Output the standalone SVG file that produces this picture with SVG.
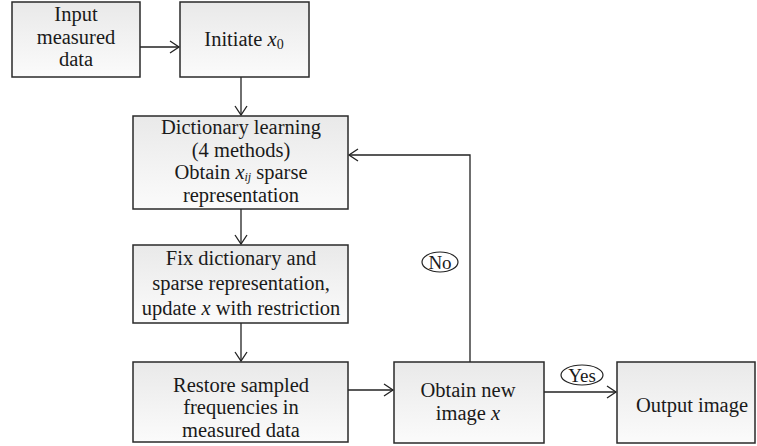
<svg xmlns="http://www.w3.org/2000/svg" width="757" height="446" viewBox="0 0 757 446">
<defs>
<linearGradient id="g" x1="0" y1="0" x2="0" y2="1">
<stop offset="0" stop-color="#e9e9e9"/>
<stop offset="1" stop-color="#fbfbfb"/>
</linearGradient>
<marker id="a" markerWidth="12" markerHeight="14" refX="10" refY="7" orient="auto" markerUnits="userSpaceOnUse">
<path d="M1,1 L10,7 L1,13" fill="none" stroke="#222" stroke-width="1.3"/>
</marker>
<style>
.box{fill:url(#g);stroke:#2a2a2a;stroke-width:1.5}
text{font-family:"Liberation Serif","Times New Roman",serif;font-size:20.5px;fill:#1a1a1a;text-anchor:middle}
.c{fill:none;stroke:#222;stroke-width:1.3}
.e{fill:#fff;stroke:#222;stroke-width:1.2}
.l{font-size:19px}
</style>
</defs>
<g id="connectors">
<line class="c" x1="140" y1="47" x2="179" y2="47" marker-end="url(#a)"/>
<line class="c" x1="241" y1="77" x2="241" y2="115" marker-end="url(#a)"/>
<line class="c" x1="241" y1="209" x2="241" y2="244" marker-end="url(#a)"/>
<line class="c" x1="241" y1="323" x2="241" y2="361" marker-end="url(#a)"/>
<line class="c" x1="348" y1="390" x2="393" y2="390" marker-end="url(#a)"/>
<polyline class="c" points="470,362 470,155 349,155" marker-end="url(#a)"/>
<line class="c" x1="544" y1="392" x2="616" y2="392" marker-end="url(#a)"/>
</g>
<g id="label-no">
<ellipse class="e" cx="440" cy="262" rx="18" ry="10"/>
<text class="l" x="440" y="268.5">No</text>
</g>
<g id="label-yes">
<ellipse class="e" cx="582" cy="375" rx="21" ry="10"/>
<text class="l" x="582" y="381.5">Yes</text>
</g>
<g id="input">
<rect class="box" x="12" y="2" width="128" height="75"/>
<text x="76" y="21">Input</text>
<text x="76" y="43.5">measured</text>
<text x="76" y="66">data</text>
</g>
<g id="initiate">
<rect class="box" x="180" y="2" width="129" height="75"/>
<text x="244" y="46">Initiate <tspan font-style="italic">x</tspan><tspan font-size="14" dy="3">0</tspan></text>
</g>
<g id="dictionary">
<rect class="box" x="133" y="116" width="215" height="93"/>
<text x="241" y="134">Dictionary learning</text>
<text x="241" y="156.5">(4 methods)</text>
<text x="241" y="178.5">Obtain <tspan font-style="italic">x</tspan><tspan font-size="12" font-style="italic" dy="2">ij</tspan><tspan dy="-2"> sparse</tspan></text>
<text x="241" y="201.5">representation</text>
</g>
<g id="fix">
<rect class="box" x="133" y="245" width="215" height="78"/>
<text x="241" y="265">Fix dictionary and</text>
<text x="241" y="290">sparse representation,</text>
<text x="241" y="315">update <tspan font-style="italic">x</tspan> with restriction</text>
</g>
<g id="restore">
<rect class="box" x="133" y="362" width="215" height="80"/>
<text x="241" y="391.5">Restore sampled</text>
<text x="241" y="414">frequencies in</text>
<text x="241" y="436.5">measured data</text>
</g>
<g id="obtain">
<rect class="box" x="394" y="362" width="150" height="81"/>
<text x="468" y="397">Obtain new</text>
<text x="468" y="419.5">image <tspan font-style="italic">x</tspan></text>
</g>
<g id="output">
<rect class="box" x="617" y="362" width="138" height="81"/>
<text x="692" y="412">Output image</text>
</g>
</svg>
